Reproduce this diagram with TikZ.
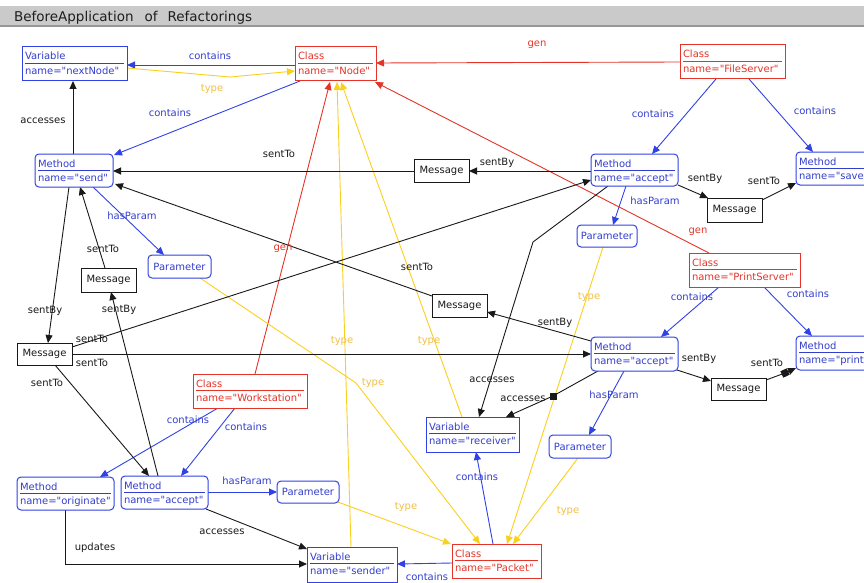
\documentclass[tikz,border=0pt]{standalone}
\usepackage{fontspec}
\setmainfont{DejaVu Sans}[Ligatures=TeXOff]
\usetikzlibrary{arrows.meta,calc}
\pgfdeclarelayer{bg}
\pgfsetlayers{bg,main}

\definecolor{cblue}{RGB}{48,66,228}
\definecolor{cbluetext}{RGB}{52,62,205}
\definecolor{cred}{RGB}{228,52,40}
\definecolor{cyel}{RGB}{250,208,30}
\definecolor{cyeltext}{RGB}{240,190,70}
\definecolor{cblack}{RGB}{25,25,25}
\definecolor{barfill}{RGB}{202,202,202}
\definecolor{barline}{RGB}{150,150,150}
\definecolor{titletext}{RGB}{30,30,30}

\tikzset{
  every node/.style={font=\fontsize{10}{12}\selectfont, inner sep=0pt, outer sep=0pt},
  objbox/.style={draw, line width=1pt, anchor=north west, fill=white},
  varbox/.style={objbox, draw=cblue},
  methbox/.style={objbox, draw=cblue, rounded corners=4pt},
  classbox/.style={objbox, draw=cred},
  msgbox/.style={objbox, draw=cblack, text=cblack, minimum width=55},
  parbox/.style={objbox, draw=cblue, rounded corners=4pt, text=cbluetext},
  marker/.style={fill=cblack, minimum size=7pt},
  arr/.style={-{Triangle[length=8pt,width=7pt]}, line width=0.9pt},
  cont/.style={arr, draw=cblue},
  gen/.style={arr, draw=cred},
  typ/.style={arr, draw=cyel},
  blk/.style={arr, draw=cblack},
  lbl/.style={text=cblack},
  lblue/.style={text=cbluetext},
  lred/.style={text=cred},
  lyel/.style={text=cyeltext},
}

% object box with a kind line, a separator and an attribute line
% #1 style, #2 name, #3 x, #4 y, #5 width, #6 height, #7 kind, #8 attribute, #9 colour
\newcommand\objnode[9]{%
  \node[#1, minimum width=#5, minimum height=#6] (#2) at (#3,#4) {};
  \node[anchor=base west, text=#9] (#2-kind) at ($(#2.north west)+(3,13)$) {#7};
  \draw[#9, line width=0.8pt] ($(#2.north west)+(3,16.5)$) -- ($(#2.north east)+(-3,16.5)$);
  \node[anchor=base west, text=#9] (#2-attr) at ($(#2.north west)+(3,27.5)$) {#8};
}

\begin{document}
\begin{tikzpicture}[x=1pt,y=-1pt]
\useasboundingbox (0,0) rectangle (864,583);
\clip (0,0) rectangle (864,583);

% title bar
\fill[barfill] (0,6) rectangle (864,26);
\fill[barline] (0,25.5) rectangle (864,27.5);
\node[font=\fontsize{13.5}{15}\selectfont, text=titletext, anchor=base west] (title) at (14,21.5)
  {BeforeApplication\hspace{11pt}of\hspace{10pt}Refactorings};

% classes, methods and variables
\objnode{varbox}{nextNode}{22}{47}{105}{34}{Variable}{name="nextNode"}{cbluetext}
\objnode{classbox}{nodeCls}{295}{47}{81}{34}{Class}{name="Node"}{cred}
\objnode{classbox}{fileServer}{680}{45}{105}{34}{Class}{name="FileServer"}{cred}
\objnode{methbox}{send}{35}{154}{78}{33}{Method}{name="send"}{cbluetext}
\objnode{methbox}{acceptFS}{591}{154}{87}{32}{Method}{name="accept"}{cbluetext}
\objnode{methbox}{save}{796}{152}{90}{33}{Method}{name="save"}{cbluetext}
\objnode{classbox}{printServer}{689}{253}{111}{34}{Class}{name="PrintServer"}{cred}
\objnode{methbox}{acceptPS}{591}{337}{87}{34}{Method}{name="accept"}{cbluetext}
\objnode{methbox}{print}{796}{336}{90}{34}{Method}{name="print"}{cbluetext}
\objnode{classbox}{workstation}{193}{374}{114}{34}{Class}{name="Workstation"}{cred}
\objnode{varbox}{receiver}{426}{417}{93}{35}{Variable}{name="receiver"}{cbluetext}
\objnode{methbox}{originate}{17}{477}{97}{33}{Method}{name="originate"}{cbluetext}
\objnode{methbox}{acceptWS}{121}{476}{87}{33}{Method}{name="accept"}{cbluetext}
\objnode{varbox}{sender}{307}{547}{90}{35}{Variable}{name="sender"}{cbluetext}
\objnode{classbox}{packet}{452}{544}{89}{34}{Class}{name="Packet"}{cred}

% messages
\node[msgbox, minimum height=23] (msgA) at (414,159) {Message};
\node[msgbox, minimum height=24] (msgB) at (707,198) {Message};
\node[msgbox, minimum height=24] (msgC) at (81,268) {Message};
\node[msgbox, minimum height=23] (msgD) at (432,294) {Message};
\node[msgbox, minimum height=22] (msgE) at (17,343) {Message};
\node[msgbox, minimum height=22] (msgF) at (711,378) {Message};

% parameters
\node[parbox, minimum width=63, minimum height=23] (paramSend) at (148,255) {Parameter};
\node[parbox, minimum width=60, minimum height=22] (paramFS) at (577,225) {Parameter};
\node[parbox, minimum width=62, minimum height=23] (paramPS) at (549,435) {Parameter};
\node[parbox, minimum width=62, minimum height=22] (paramWS) at (277,481) {Parameter};

% bend markers
\node[marker] (sq1) at (553,396) {};
\node[marker, rotate=25] (sq2) at (785,373) {};

\begin{pgfonlayer}{bg}
% contains / hasParam
\draw[cont] ($(nodeCls.north west)+(0,18)$) -- ($(nextNode.north west)+(105,18)$);
\draw[cont] ($(nodeCls.north west)+(5,34)$) -- ($(send.north west)+(79,1)$);
\draw[cont] ($(fileServer.north west)+(36,34)$) -- ($(acceptFS.north west)+(61,0)$);
\draw[cont] ($(fileServer.north west)+(69,34)$) -- ($(save.north west)+(17,0)$);
\draw[cont] ($(send.north west)+(58,33)$) -- ($(paramSend.north west)+(16,0)$);
\draw[cont] ($(acceptFS.north west)+(35,32)$) -- ($(paramFS.north west)+(36,0)$);
\draw[cont] ($(printServer.north west)+(30,34)$) -- ($(acceptPS.north west)+(70,0)$);
\draw[cont] ($(printServer.north west)+(75,34)$) -- ($(print.north west)+(16,0)$);
\draw[cont] ($(acceptPS.north west)+(33,34)$) -- ($(paramPS.north west)+(40,0)$);
\draw[cont] ($(workstation.north west)+(25,34)$) -- ($(originate.north west)+(83,0)$);
\draw[cont] ($(workstation.north west)+(42,34)$) -- ($(acceptWS.north west)+(60,0)$);
\draw[cont] ($(acceptWS.north west)+(87,16)$) -- ($(paramWS.north west)+(0,11)$);
\draw[cont] ($(packet.north west)+(41,0)$) -- ($(receiver.north west)+(50,35)$);
\draw[cont] ($(packet.north west)+(0,19)$) -- ($(sender.north west)+(90,17)$);

% gen
\draw[gen] ($(fileServer.north west)+(0,17)$) -- ($(nodeCls.north west)+(81,16)$);
\draw[gen] ($(printServer.north west)+(20,0)$) -- ($(nodeCls.north west)+(80,35)$);
\draw[gen] ($(workstation.north west)+(62,0)$) -- ($(nodeCls.north west)+(35,35)$);

% type
\draw[typ] ($(nextNode.north west)+(105,21)$) -- (230,77) -- ($(nodeCls.north west)+(0,24)$);
\draw[typ] ($(sender.north west)+(44,0)$) -- ($(nodeCls.north west)+(42,35)$);
\draw[typ] ($(receiver.north west)+(36,0)$) -- ($(nodeCls.north west)+(46,35)$);
\draw[typ] ($(paramSend.north west)+(52,23)$) -- (356,383) -- ($(packet.north west)+(28,0)$);
\draw[typ] ($(paramFS.north west)+(26,22)$) -- ($(packet.north west)+(55,0)$);
\draw[typ] ($(paramPS.north west)+(29,23)$) -- ($(packet.north west)+(61,0)$);
\draw[typ] ($(paramWS.north west)+(61,21)$) -- ($(packet.north west)+(-1,0)$);

% sentTo / sentBy / accesses / updates
\draw[blk] ($(send.north west)+(38,0)$) -- ($(nextNode.north west)+(51,34)$);
\draw[blk] ($(msgA.north west)+(0,12)$) -- ($(send.north west)+(78,17)$);
\draw[blk] ($(acceptFS.north west)+(0,17)$) -- ($(msgA.north west)+(55,12)$);
\draw[blk] ($(acceptFS.north west)+(87,31)$) -- ($(msgB.north west)+(1,0)$);
\draw[blk] ($(msgB.north west)+(55,2)$) -- ($(save.north west)+(0,31)$);
\draw[blk] ($(msgD.north west)+(0,2)$) -- ($(send.north west)+(80,30)$);
\draw[blk] ($(acceptPS.north west)+(0,4)$) -- ($(msgD.north west)+(55,18)$);
\draw[blk] ($(send.north west)+(34,33)$) -- ($(msgE.north west)+(31,0)$);
\draw[blk] ($(msgE.north west)+(55,4)$) -- ($(acceptFS.north west)+(0,26)$);
\draw[blk] ($(msgE.north west)+(55,11)$) -- ($(acceptPS.north west)+(0,17)$);
\draw[blk] ($(msgE.north west)+(38,22)$) -- ($(acceptWS.north west)+(28,0)$);
\draw[blk] ($(msgC.north west)+(24,0)$) -- ($(send.north west)+(45,33)$);
\draw[blk] ($(acceptWS.north west)+(37,0)$) -- ($(msgC.north west)+(30,24)$);
\draw[blk] ($(acceptFS.north west)+(17,32)$) -- (533,242) -- ($(receiver.north west)+(53,0)$);
\draw[blk] ($(acceptPS.north west)+(7,34)$) -- (sq1.center) -- ($(receiver.north west)+(80,0)$);
\draw[blk] ($(acceptPS.north west)+(86,33)$) -- ($(msgF.north west)+(0,3)$);
\draw[blk] ($(msgF.north west)+(55,2)$) -- (sq2.center) -- ($(print.north west)+(0,32)$);
\draw[blk] ($(acceptWS.north west)+(85,33)$) -- ($(sender.north west)+(0,2)$);
\draw[blk] ($(originate.north west)+(48,33)$) |- ($(sender.north west)+(0,17)$);
\end{pgfonlayer}

% connector labels
\node[lblue] (lc1) at (210,56) {contains};
\node[lblue] (lc2) at (170,113) {contains};
\node[lblue] (lc3) at (653,114) {contains};
\node[lblue] (lc4) at (815,111) {contains};
\node[lblue] (lh1) at (132,216) {hasParam};
\node[lblue] (lh2) at (655,201) {hasParam};
\node[lblue] (lc5) at (692,297) {contains};
\node[lblue] (lc6) at (808,294) {contains};
\node[lblue] (lh3) at (614,395) {hasParam};
\node[lblue] (lc7) at (188,420) {contains};
\node[lblue] (lc8) at (246,427) {contains};
\node[lblue] (lh4) at (247,481) {hasParam};
\node[lblue] (lc9) at (477,477) {contains};
\node[lblue] (lc10) at (427,577) {contains};

\node[lred] (lg1) at (537,45) {gen};
\node[lred] (lg2) at (698,232) {gen};
\node[lred] (lg3) at (283,249) {gen};

\node[lyel] (lt1) at (212,89) {type};
\node[lyel] (lt2) at (342,341) {type};
\node[lyel] (lt3) at (429,341) {type};
\node[lyel] (lt4) at (373,383) {type};
\node[lyel] (lt5) at (589,297) {type};
\node[lyel] (lt6) at (568,511) {type};
\node[lyel] (lt7) at (406,507) {type};

\node[lbl] (la1) at (43,121) {accesses};
\node[lbl] (ls1) at (279,154) {sentTo};
\node[lbl] (ls2) at (497,163) {sentBy};
\node[lbl] (ls3) at (705,179) {sentBy};
\node[lbl] (ls4) at (764,181) {sentTo};
\node[lbl] (ls5) at (417,267) {sentTo};
\node[lbl] (ls6) at (555,323) {sentBy};
\node[lbl] (ls7) at (699,359) {sentBy};
\node[lbl] (ls8) at (767,363) {sentTo};
\node[lbl] (ls9) at (103,249) {sentTo};
\node[lbl] (ls10) at (45,311) {sentBy};
\node[lbl] (ls11) at (119,310) {sentBy};
\node[lbl] (ls12) at (92,339) {sentTo};
\node[lbl] (ls13) at (92,363) {sentTo};
\node[lbl] (ls14) at (47,383) {sentTo};
\node[lbl] (la2) at (492,380) {accesses};
\node[lbl] (la3) at (523,399) {accesses};
\node[lbl] (la4) at (222,532) {accesses};
\node[lbl] (lu1) at (95,548) {updates};
\end{tikzpicture}
\end{document}
